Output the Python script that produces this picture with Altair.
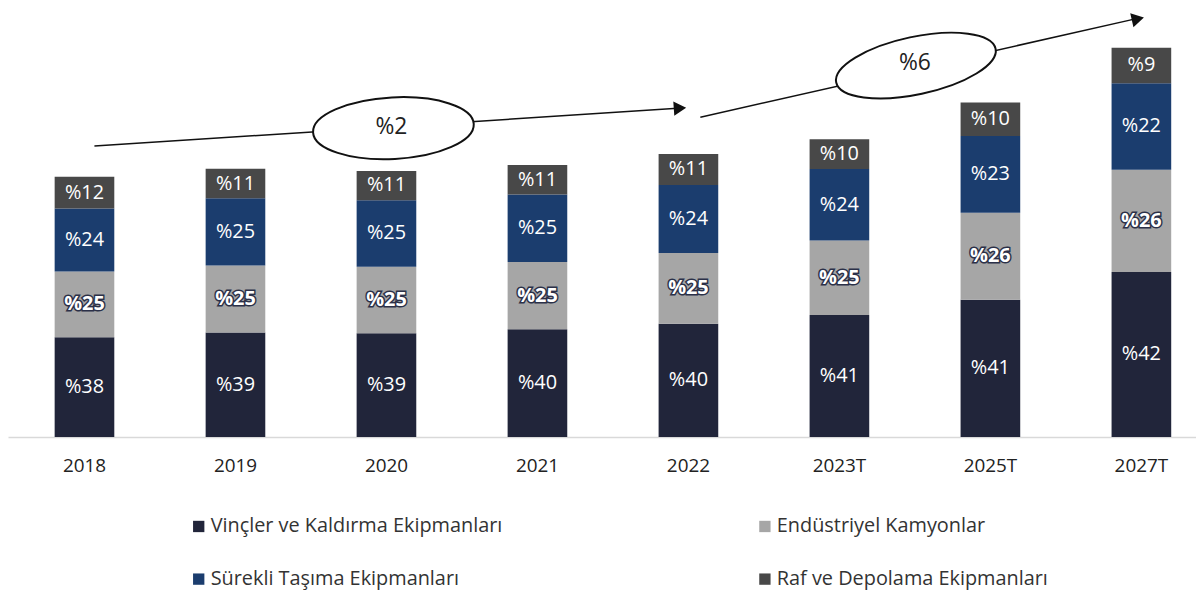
import altair as alt
import pandas as pd

years = ["2018", "2019", "2020", "2021", "2022", "2023T", "2025T", "2027T"]
# relative market size index (2018 = 100)
totals = [100, 103.1, 102.3, 104.6, 108.8, 114.5, 128.6, 149.6]

series = ["Vinçler ve Kaldırma Ekipmanları", "Endüstriyel Kamyonlar",
          "Sürekli Taşıma Ekipmanları", "Raf ve Depolama Ekipmanları"]
colors = ["#21253a", "#a6a6a6", "#1b3d6e", "#484848"]
# legend order (filled column by column)
legend_order = [0, 2, 1, 3]

vincler = [38, 39, 39, 40, 40, 41, 41, 42]
endustriyel = [25, 25, 25, 25, 25, 25, 26, 26]
surekli = [24, 25, 25, 25, 24, 24, 23, 22]
raf = [12, 11, 11, 11, 11, 10, 10, 9]

shares = [vincler, endustriyel, surekli, raf]

rows = []
for i, y in enumerate(years):
    s = sum(sh[i] for sh in shares)
    for k, name in enumerate(series):
        rows.append({"year": y, "series": name, "ord": k,
                     "share": shares[k][i],
                     "value": totals[i] * shares[k][i] / s,
                     "label": "%" + str(shares[k][i])})
df = pd.DataFrame(rows)

FONT = "Open Sans"

xscale = alt.Scale(domain=years, paddingInner=0.605, paddingOuter=0.2366, align=0.653)
yscale = alt.Scale(domain=[0, 163.0])

base = alt.Chart(df).transform_stack(
    stack="value", groupby=["year"], as_=["y0", "y1"], sort=[alt.SortField("ord")]
).transform_calculate(mid="(datum.y0 + datum.y1) / 2")

bars = base.mark_bar().encode(
    x=alt.X("year:N", scale=xscale, sort=years,
            axis=alt.Axis(title=None, labelFontSize=19, labelColor="#222222", labelFont=FONT,
                          ticks=False, domainColor="#d9d9d9", domainWidth=1.5,
                          labelPadding=20, labelAngle=0)),
    y=alt.Y("y0:Q", scale=yscale, axis=None),
    y2="y1:Q",
    color=alt.Color("series:N",
                    scale=alt.Scale(domain=[series[j] for j in legend_order],
                                    range=[colors[j] for j in legend_order]),
                    legend=alt.Legend(title=None, orient="none", legendX=182, legendY=507,
                                      columns=2, columnPadding=254, rowPadding=33,
                                      symbolType="square", symbolSize=130,
                                      symbolStrokeWidth=0, labelFontSize=20,
                                      labelFont=FONT, labelColor="#333333",
                                      labelOffset=2, labelLimit=0)),
    order=alt.Order("ord:Q"),
)

outline = base.transform_filter("datum.ord == 1").mark_text(
    font=FONT, fontSize=20, fontWeight="bold", stroke="#2b3048", strokeWidth=3,
    fill="#2b3048", baseline="middle"
).encode(x=alt.X("year:N", scale=xscale, sort=years), y=alt.Y("mid:Q", scale=yscale), text="label:N")

labels_bold = base.transform_filter("datum.ord == 1").mark_text(
    font=FONT, fontSize=20, fontWeight="bold", color="white", baseline="middle"
).encode(x=alt.X("year:N", scale=xscale, sort=years), y=alt.Y("mid:Q", scale=yscale), text="label:N")

labels = base.transform_filter("datum.ord != 1").mark_text(
    font=FONT, fontSize=20, color="white", baseline="middle"
).encode(x=alt.X("year:N", scale=xscale, sort=years), y=alt.Y("mid:Q", scale=yscale), text="label:N")

# annotation: growth arrows with ellipses (pixel positions in plot coords)
ann = pd.DataFrame({"k": [0]})
O = 8


def rule(x1, y1, x2, y2):
    return alt.Chart(ann).mark_rule(color="#111111", strokeWidth=1.5).encode(
        x=alt.value(x1 - O), y=alt.value(y1 - O), x2=alt.value(x2 - O), y2=alt.value(y2 - O))


def head(x, y, ang):
    return alt.Chart(ann).mark_point(shape="triangle-right", filled=True, fill="#111111",
                                     stroke="#111111", opacity=1, size=120, angle=ang).encode(
        x=alt.value(x - O), y=alt.value(y - O))


def ellipse(cx, cy, a, b, ang):
    r = b / a
    k = 0.5523
    path = (f"M -1 0 C -1 {-k*r:.4f} {-k:.4f} {-r:.4f} 0 {-r:.4f} "
            f"C {k:.4f} {-r:.4f} 1 {-k*r:.4f} 1 0 "
            f"C 1 {k*r:.4f} {k:.4f} {r:.4f} 0 {r:.4f} "
            f"C {-k:.4f} {r:.4f} -1 {k*r:.4f} -1 0 Z")
    return alt.Chart(ann).mark_point(shape=path, filled=True, fill="white", stroke="#111111",
                                     strokeWidth=2, opacity=1, size=(2 * a) ** 2,
                                     angle=ang).encode(x=alt.value(cx - O), y=alt.value(cy - O))


def label(cx, cy, t):
    return alt.Chart(ann).mark_text(text=t, font=FONT, fontSize=23, color="#222222",
                                    baseline="middle", align="center").encode(
        x=alt.value(cx - O), y=alt.value(cy - O))


annot = (rule(95, 142, 682, 104) + head(684, 104, 356) + ellipse(396, 124, 81, 31, 357)
         + label(394, 123, "%2")
         + rule(705, 113, 1143, 14) + head(1145, 14, 347) + ellipse(922, 61, 82, 29, 348)
         + label(921, 58, "%6"))

chart = alt.layer(bars, outline, labels_bold, labels, annot).properties(
    width=1196, height=427, padding={"left": 0, "top": 0, "right": 0, "bottom": 0}
).configure_view(stroke=None).configure_axis(grid=False)

chart.save("out.html", embed_options={"renderer": "svg", "actions": False})
